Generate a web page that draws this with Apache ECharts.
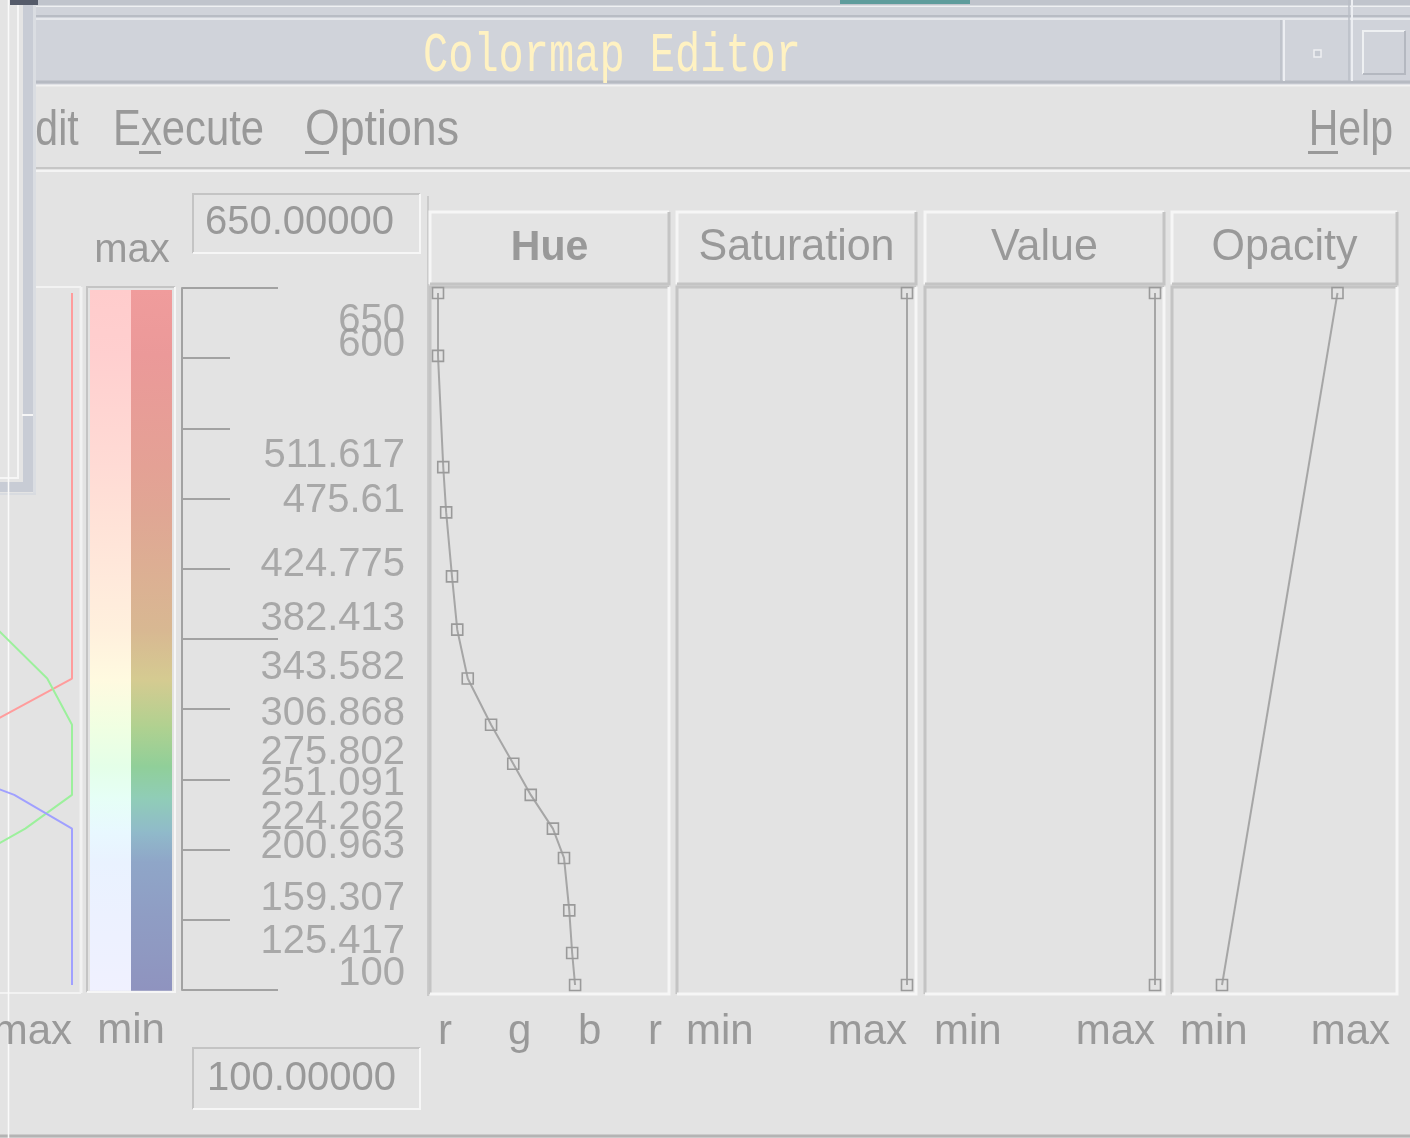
<!DOCTYPE html>
<html><head><meta charset="utf-8">
<script src="https://cdn.jsdelivr.net/npm/echarts@6/dist/echarts.min.js"></script>
<style>html,body{margin:0;padding:0;background:#e3e3e3;overflow:hidden}#c{width:1410px;height:1138px}</style>
</head><body><div id="c"></div>
<script>
// ---- data ----
const controlValues = [650, 600, 511.617, 475.61, 424.775, 382.413, 343.582, 306.868, 275.802, 251.091, 224.262, 200.963, 159.307, 125.417, 100];
const hueValues = [0, 0, 9, 14, 24, 33, 51, 91, 129, 159, 197, 216, 225, 230, 235];
const rangeEnds = [650, 100];
const saturationEnds = [1, 1];
const valueEnds = [1, 1];
const opacityEnds = [0.75, 0.2];
const hueTickLabels = ['r', 'g', 'b', 'r'];
const headerTitles = ['Hue', 'Saturation', 'Value', 'Opacity'];
const menuItems = ['Edit', 'Execute', 'Options'];
const helpItem = 'Help';
const windowTitle = 'Colormap Editor';

const FONT = "'Liberation Sans', Arial, sans-serif";
const TXT = '#999999';
const LIGHT = '#f6f6f6', DARK = '#c4c4c4';

function hsv2rgb(h, s, v) {
  const c = v * s, hp = ((h % 360) + 360) % 360 / 60;
  const x = c * (1 - Math.abs(hp % 2 - 1));
  let r = 0, g = 0, b = 0;
  if (hp < 1) { r = c; g = x; } else if (hp < 2) { r = x; g = c; } else if (hp < 3) { g = c; b = x; }
  else if (hp < 4) { g = x; b = c; } else if (hp < 5) { r = x; b = c; } else { r = c; b = x; }
  const m = v - c; return [r + m, g + m, b + m];
}
function stripColor(cat, i) {
  const h = hueValues[i];
  const t = (rangeEnds[0] - controlValues[i]) / (rangeEnds[0] - rangeEnds[1]);
  const rgb = cat === 0 ? hsv2rgb(h, 0.2 - 0.14 * t, 1) : hsv2rgb(h, 0.35 - 0.1 * t * t, 0.94 - 0.19 * t);
  return 'rgb(' + rgb.map(c => Math.round(c * 255)).join(',') + ')';
}

// ---- graphic chrome ----
const G = [];
function rect(x, y, w, h, fill, stroke) { G.push({ type: 'rect', silent: true, shape: { x, y, width: w, height: h }, style: { fill: fill, stroke: stroke || null, lineWidth: stroke ? 1.5 : 0 } }); }
function line(x1, y1, x2, y2, stroke, lw) { G.push({ type: 'line', silent: true, shape: { x1, y1, x2, y2 }, style: { stroke, lineWidth: lw || 2 } }); }
function bevel(x, y, w, h, tl, br, lw) {
  G.push({ type: 'polyline', silent: true, shape: { points: [[x, y + h], [x, y], [x + w, y]] }, style: { stroke: tl, lineWidth: lw, fill: null } });
  G.push({ type: 'polyline', silent: true, shape: { points: [[x + w, y], [x + w, y + h], [x, y + h]] }, style: { stroke: br, lineWidth: lw, fill: null } });
}
function text(t, x, y, o) {
  o = o || {};
  G.push({ type: 'text', silent: true, x, y, scaleY: o.sy || 1, scaleX: o.sx || 1,
    style: { text: t, x: 0, y: 0, fill: o.fill || TXT, fontSize: o.size || 40, fontFamily: o.family || FONT,
      fontWeight: o.weight || 'normal', align: o.align || 'left', verticalAlign: 'middle' } });
}

// top strip + title bar
rect(0, 0, 1410, 6, '#c0c4cc');
rect(840, 0, 130, 4, '#5e9c9c');
line(0, 6.5, 1410, 6.5, '#eef0f2', 2);
rect(36, 7, 1374, 78, '#d0d3da');
line(36, 16, 1410, 16, '#b8bcc4', 2);
line(36, 19, 1410, 19, '#e6e8ec', 2);
line(36, 82, 1410, 82, '#b6bac2', 3);
line(36, 85.5, 1410, 85.5, '#f2f2f2', 2);
line(1281, 20, 1281, 81, '#babec6', 1.5);
line(1284, 20, 1284, 81, '#eceef2', 2);
line(1349, 0, 1349, 81, '#babec6', 1.5);
line(1352, 0, 1352, 81, '#eceef2', 2);
rect(1314, 50, 7, 7, '#c6cad2', '#eef0f2');
bevel(1363, 31, 42, 43, '#eef0f2', '#b4b8c0', 2);
text(windowTitle, 612, 57, { family: "'Liberation Mono', 'DejaVu Sans Mono', monospace", size: 42, fill: '#fff2c2', align: 'center', sy: 1.3 });

// menu bar
const menuX = [8, 113, 305];
const menuSX = [1, 1.02, 1.09];
menuItems.forEach((m, i) => text(m, menuX[i], 131, { size: 41, sy: 1.2, sx: menuSX[i] }));
text(helpItem, 1393, 131, { size: 41, sy: 1.2, align: 'right' });
rect(139, 151, 22, 3, TXT);
rect(305, 151, 24, 3, TXT);
rect(1308, 151, 30, 3, TXT);
line(36, 168, 1410, 168, '#c6c6c6', 2);
line(36, 171, 1410, 171, '#f4f4f4', 2);

// value boxes
const fmt = v => v.toFixed(5);
bevel(193, 194, 227, 59, DARK, LIGHT, 2);
text(fmt(rangeEnds[0]), 205, 223, { size: 40 });
bevel(193, 1048, 227, 61, DARK, LIGHT, 2);
text(fmt(rangeEnds[1]), 207, 1079, { size: 40 });
line(428, 196, 428, 996, '#cbcbcb', 2);

// colorbar & rgb frames
bevel(87, 287, 88, 705, DARK, LIGHT, 2);
line(0, 287, 81, 287, '#f2f2f2', 2);
line(81, 287, 81, 993, '#f2f2f2', 3);
line(-2, 993, 81, 993, '#f2f2f2', 2);
text('max', 132, 251, { size: 40, align: 'center' });
text('min', 131, 1031, { size: 42, align: 'center' });

// panels
const panelX = [430, 677, 925, 1172], panelW = [239, 239, 239, 225];
headerTitles.forEach((t, i) => {
  rect(panelX[i], 212, panelW[i], 72, '#e4e4e4');
  bevel(panelX[i], 212, panelW[i], 72, LIGHT, DARK, 3);
  bevel(panelX[i], 287, panelW[i], 707, DARK, LIGHT, 3);
  text(t, panelX[i] + panelW[i] / 2, 248, { size: i === 0 ? 41 : 43, weight: i === 0 ? 'bold' : 'normal', align: 'center', sy: 1.05 });
});

// bottom edge
line(0, 1136, 1410, 1136, '#b4b4b4', 3);

// overlapping window at left
rect(0, 0, 36, 495, '#e4e4e4');
rect(23, 0, 10, 492, '#c8ccd5');
rect(33, 0, 3, 495, '#dadde2');
line(18, 0, 18, 478, '#f6f6f6', 2);
line(0, 478, 19, 478, '#f6f6f6', 2);
rect(0, 482, 33, 10, '#c8ccd5');
line(0, 494, 36, 494, '#d8dbe0', 2);
line(22, 415, 33, 415, '#f6f6f6', 2);
line(8.5, 0, 8.5, 1138, '#fafafa', 1.5);
rect(10, 0, 28, 5, '#555b6a');

// ---- series data ----
const barData = [];
[0, 1].forEach(cat => { for (let i = 0; i < controlValues.length - 1; i++) barData.push([cat, controlValues[i], controlValues[i + 1], i]); });
const labelData = controlValues.map(v => ({ value: [1, v], label: { offset: [0, v === rangeEnds[0] ? 28 : -11] } }));
const rgbSeries = ['#ff9c9c', '#9cf09c', '#a0a0ff'].map((col, k) => ({
  type: 'line', xAxisIndex: 2, yAxisIndex: 4, showSymbol: false, symbol: 'none', clip: true, silent: true,
  lineStyle: { color: col, width: 2 },
  data: controlValues.map((v, i) => [hsv2rgb(hueValues[i], 1, 1)[k], v])
}));
const markStyle = { symbol: 'rect', symbolSize: 11, clip: false, silent: true,
  itemStyle: { color: 'rgba(0,0,0,0)', borderColor: '#9a9a9a', borderWidth: 1.6 },
  lineStyle: { color: '#a6a6a6', width: 2 } };

const labelFont = { color: TXT, fontSize: 42, fontFamily: FONT };
const hiddenY = gi => ({ type: 'value', gridIndex: gi, min: rangeEnds[1], max: rangeEnds[0], show: false });
const mmAxis = gi => ({ type: 'value', gridIndex: gi, min: 0, max: 1, interval: 1,
  axisLine: { show: false }, axisTick: { show: false }, splitLine: { show: false },
  axisLabel: Object.assign({ margin: 26, formatter: v => v === 0 ? 'min' : 'max', alignMinLabel: 'left', alignMaxLabel: 'right' }, labelFont) });
const g = (left, top, width, height) => ({ left, top, width, height, outerBoundsMode: 'none', containLabel: false });

const chart = echarts.init(document.getElementById('c'), null, { renderer: 'canvas' });
chart.setOption({
  animation: false,
  backgroundColor: '#e3e3e3',
  graphic: { elements: G },
  grid: [
    g(90, 290, 82, 700),
    g(182, 288, 225, 702),
    g(-93, 293, 165, 692),
    g(438, 293, 210, 692),
    g(686, 293, 221, 692),
    g(934, 293, 221, 692),
    g(1180, 293, 210, 692),
    g(182, 293, 225, 692)
  ],
  xAxis: [
    { type: 'category', gridIndex: 0, data: ['pastel', 'full'], show: false },
    { type: 'value', gridIndex: 1, min: 0, max: 1, show: false },
    mmAxis(2),
    { type: 'value', gridIndex: 3, min: 0, max: 360, interval: 120,
      axisLine: { show: false }, axisTick: { show: false }, splitLine: { show: false },
      axisLabel: Object.assign({ margin: 26, align: 'left', formatter: v => hueTickLabels[Math.round(v / 120)] }, labelFont) },
    mmAxis(4), mmAxis(5), mmAxis(6),
    { type: 'value', gridIndex: 7, min: 0, max: 1, show: false }
  ],
  yAxis: [
    hiddenY(0),
    { type: 'value', gridIndex: 1, min: 0, max: 10, interval: 5, position: 'left',
      axisLine: { show: true, lineStyle: { color: '#a2a2a2', width: 2 } },
      axisTick: { show: true, inside: true, length: 96, lineStyle: { color: '#a2a2a2', width: 2 } },
      axisLabel: { show: false }, splitLine: { show: false } },
    { type: 'value', gridIndex: 1, min: 0, max: 10, interval: 1, position: 'left', offset: 0,
      axisLine: { show: false },
      axisTick: { show: true, inside: true, length: 48, lineStyle: { color: '#a2a2a2', width: 2 } },
      axisLabel: { show: false }, splitLine: { show: false } },
    hiddenY(7), hiddenY(2), hiddenY(3), hiddenY(4), hiddenY(5), hiddenY(6)
  ],
  series: [
    { type: 'custom', xAxisIndex: 0, yAxisIndex: 0, data: barData, silent: true,
      renderItem: (params, api) => {
        const cat = api.value(0), v0 = api.value(1), v1 = api.value(2), idx = api.value(3);
        const p0 = api.coord([cat, v0]), p1 = api.coord([cat, v1]);
        const w = api.size([1, 0])[0];
        return { type: 'rect', shape: { x: p0[0] - w / 2, y: p0[1], width: w, height: p1[1] - p0[1] + 0.8 },
          style: { fill: new echarts.graphic.LinearGradient(0, 0, 0, 1, [
            { offset: 0, color: stripColor(cat, idx) }, { offset: 1, color: stripColor(cat, idx + 1) }]) } };
      } },
    { type: 'scatter', xAxisIndex: 7, yAxisIndex: 3, symbolSize: 0, silent: true, data: labelData,
      label: { show: true, position: 'left', distance: 2, color: TXT, fontSize: 40, fontFamily: FONT,
        formatter: p => String(p.value[1]) } },
    ...rgbSeries,
    Object.assign({ type: 'line', xAxisIndex: 3, yAxisIndex: 5, data: hueValues.map((h, i) => [h, controlValues[i]]) }, markStyle),
    Object.assign({ type: 'line', xAxisIndex: 4, yAxisIndex: 6, data: [[saturationEnds[0], rangeEnds[0]], [saturationEnds[1], rangeEnds[1]]] }, markStyle),
    Object.assign({ type: 'line', xAxisIndex: 5, yAxisIndex: 7, data: [[valueEnds[0], rangeEnds[0]], [valueEnds[1], rangeEnds[1]]] }, markStyle),
    Object.assign({ type: 'line', xAxisIndex: 6, yAxisIndex: 8, data: [[opacityEnds[0], rangeEnds[0]], [opacityEnds[1], rangeEnds[1]]] }, markStyle)
  ]
});
</script></body></html>
